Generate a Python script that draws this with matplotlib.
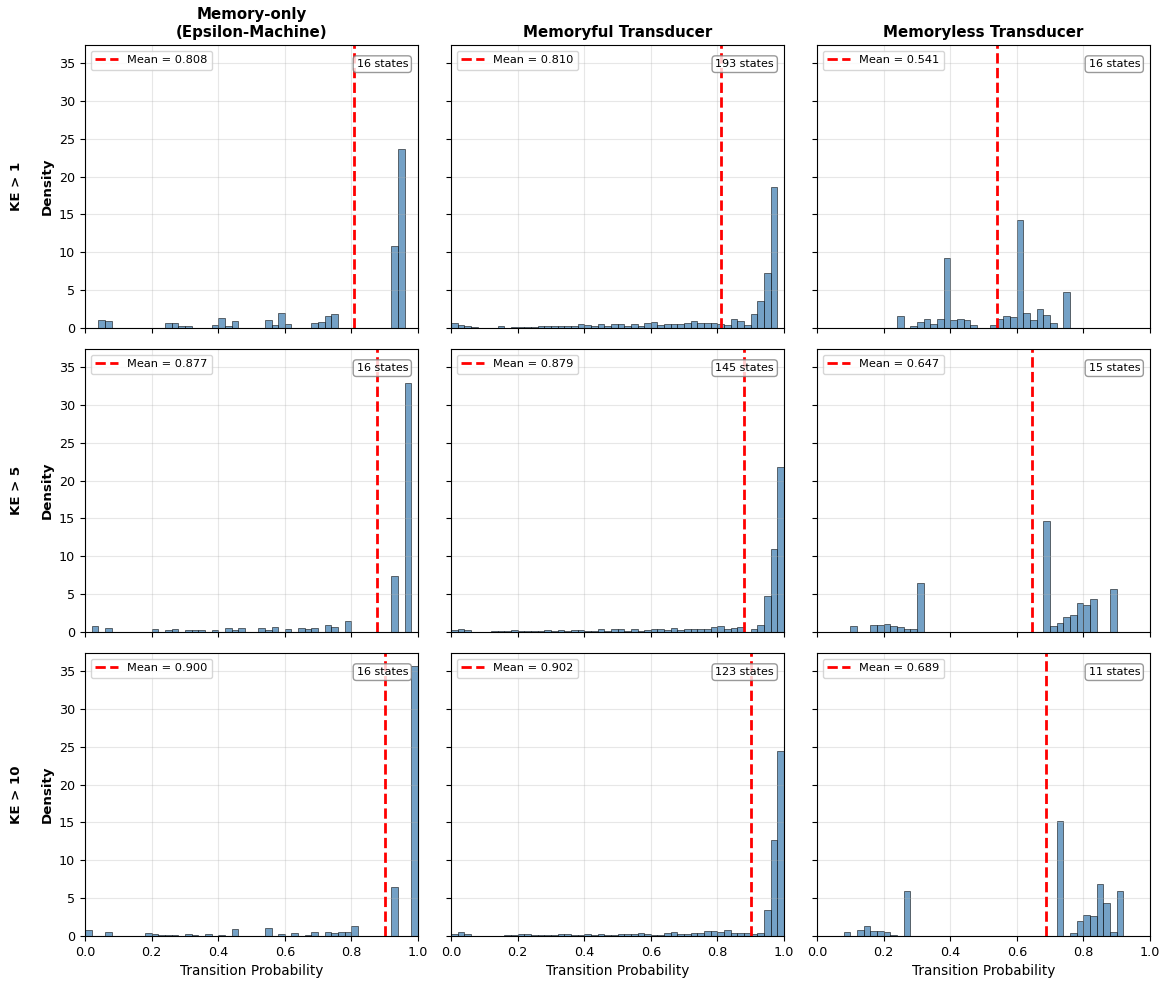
import numpy as np
import matplotlib
matplotlib.use("Agg")
import matplotlib.pyplot as plt

# 50 bins on [0, 1]; heights are densities
EDGES = np.linspace(0, 1, 51)
COL_TITLES = ["Memory-only\n(Epsilon-Machine)", "Memoryful Transducer", "Memoryless Transducer"]
ROW_LABELS = ["KE > 1", "KE > 5", "KE > 10"]

MEANS = [[0.808, 0.810, 0.541],
         [0.877, 0.879, 0.647],
         [0.900, 0.902, 0.689]]
STATES = [[16, 193, 16],
          [16, 145, 15],
          [16, 123, 11]]

# KE > 1
KE1_MEMONLY = [
    0, 0, 1.02, 0.88, 0, 0, 0, 0, 0, 0,
    0, 0, 0.62, 0.62, 0.31, 0.31, 0, 0, 0, 0.35,
    1.33, 0.27, 0.88, 0, 0, 0, 0, 1.10, 0.35, 1.95,
    0.53, 0, 0, 0, 0.71, 0.75, 1.64, 1.86, 0, 0,
    0, 0, 0, 0, 0, 0, 10.84, 23.6, 0, 0]
KE1_MEMFUL = [
    0.62, 0.35, 0.22, 0.09, 0, 0.04, 0, 0.22, 0.04, 0.09,
    0.13, 0.13, 0.18, 0.31, 0.27, 0.22, 0.22, 0.27, 0.22, 0.58,
    0.40, 0.22, 0.49, 0.27, 0.49, 0.53, 0.27, 0.53, 0.27, 0.62,
    0.84, 0.35, 0.58, 0.53, 0.53, 0.66, 0.93, 0.66, 0.62, 0.71,
    0.58, 0.35, 1.24, 0.88, 0.40, 1.86, 3.54, 7.26, 18.63, 0]
KE1_MEMLESS = [
    0, 0, 0, 0, 0, 0, 0, 0, 0, 0,
    0, 0, 1.64, 0, 0.27, 0.75, 1.24, 0.58, 1.15, 9.25,
    1.02, 1.15, 1.02, 0.35, 0, 0, 0.40, 1.24, 1.55, 1.46,
    14.25, 1.95, 1.02, 2.48, 1.77, 0.62, 0, 4.78, 0, 0,
    0, 0, 0, 0, 0, 0, 0, 0, 0, 0]

# KE > 5
KE5_MEMONLY = [
    0, 0.84, 0, 0.58, 0, 0, 0, 0, 0, 0,
    0.40, 0, 0.22, 0.35, 0, 0.22, 0.22, 0.31, 0, 0.31,
    0, 0.49, 0.22, 0.53, 0, 0, 0.58, 0.27, 0.62, 0,
    0.44, 0, 0.49, 0.35, 0.49, 0, 0.93, 0.62, 0, 1.42,
    0, 0, 0, 0, 0, 0, 7.39, 0, 32.9, 0]
KE5_MEMFUL = [
    0.31, 0.40, 0.27, 0.04, 0.04, 0, 0.13, 0.13, 0.13, 0.22,
    0.15, 0.15, 0.15, 0.18, 0.22, 0.13, 0.31, 0.18, 0.31, 0.22,
    0.13, 0.13, 0.35, 0.13, 0.35, 0.35, 0.13, 0.35, 0.18, 0.22,
    0.35, 0.44, 0.22, 0.58, 0.22, 0.44, 0.44, 0.44, 0.40, 0.62,
    0.84, 0.40, 0.49, 0.62, 0, 0.44, 0.88, 4.82, 10.97, 21.77]
KE5_MEMLESS = [
    0, 0, 0, 0, 0, 0.75, 0, 0, 0.93, 0.88,
    1.02, 0.75, 0.66, 0.44, 0.35, 6.42, 0, 0, 0, 0,
    0, 0, 0, 0, 0, 0, 0, 0, 0, 0,
    0, 0, 0, 0, 14.73, 0.84, 1.24, 1.99, 2.30, 3.80,
    3.63, 4.34, 0, 0, 5.66, 0, 0, 0, 0, 0]

# KE > 10
KE10_MEMONLY = [
    0.75, 0, 0, 0.48, 0, 0, 0, 0, 0, 0.35,
    0.22, 0.18, 0.18, 0.18, 0, 0.31, 0.09, 0, 0.31, 0,
    0.18, 0, 0.88, 0, 0, 0, 0, 1.01, 0, 0.26,
    0, 0.40, 0, 0.18, 0.48, 0, 0.48, 0.35, 0.53, 0.53,
    1.28, 0, 0, 0, 0, 0, 6.48, 0, 0, 35.6]
KE10_MEMFUL = [
    0.26, 0.48, 0.26, 0, 0, 0, 0, 0, 0.18, 0.13,
    0.26, 0.22, 0.13, 0.13, 0.13, 0.13, 0.31, 0.22, 0.09, 0.18,
    0.31, 0.18, 0.26, 0.13, 0.18, 0.31, 0.26, 0.31, 0.35, 0.22,
    0.13, 0.13, 0.35, 0.48, 0.22, 0.22, 0.35, 0.35, 0.62, 0.70,
    0.53, 0.75, 0.44, 0.40, 0.35, 0.26, 0.40, 3.39, 12.7, 24.4]
KE10_MEMLESS = [
    0, 0, 0, 0, 0.57, 0, 0.75, 1.28, 0.62, 0.70,
    0.53, 0.18, 0, 5.94, 0, 0, 0, 0, 0, 0,
    0, 0, 0, 0, 0, 0, 0, 0, 0, 0,
    0, 0, 0, 0, 0, 0, 15.2, 0, 0.35, 1.94,
    2.73, 2.69, 6.92, 4.32, 0.48, 5.94, 0, 0, 0, 0]

DENSITIES = [[KE1_MEMONLY, KE1_MEMFUL, KE1_MEMLESS],
             [KE5_MEMONLY, KE5_MEMFUL, KE5_MEMLESS],
             [KE10_MEMONLY, KE10_MEMFUL, KE10_MEMLESS]]


def main():
    fig, axs = plt.subplots(3, 3, figsize=(11.68, 9.85), sharex=True, sharey=True)
    fig.subplots_adjust(left=0.0728, right=0.9846, top=0.9543, bottom=0.0497,
                        wspace=0.099, hspace=0.074)
    centers = (EDGES[:-1] + EDGES[1:]) / 2

    for r in range(3):
        for c in range(3):
            ax = axs[r][c]
            ax.hist(centers, bins=EDGES, weights=DENSITIES[r][c], color="steelblue",
                    alpha=0.75, edgecolor="black", linewidth=0.5)
            m = MEANS[r][c]
            ax.axvline(m, color="red", linestyle="--", linewidth=2,
                       label=f"Mean = {m:.3f}")
            ax.legend(loc="upper left", fontsize=8.2)
            ax.text(0.97, 0.95, f"{STATES[r][c]} states", transform=ax.transAxes,
                    ha="right", va="top", fontsize=8,
                    bbox=dict(boxstyle="round", facecolor="white",
                              edgecolor="gray", alpha=0.8))
            ax.grid(True, alpha=0.3)
            ax.set_xlim(0, 1)
            ax.tick_params(labelsize=9.2)
            if r == 0:
                ax.set_title(COL_TITLES[c], fontsize=10.8, fontweight="bold")
            if c == 0:
                ax.set_ylabel("Density", fontsize=9.6, fontweight="bold")
                ax.text(-0.207, 0.5, ROW_LABELS[r], transform=ax.transAxes,
                        rotation=90, ha="center", va="center",
                        fontsize=9.6, fontweight="bold")
            if r == 2:
                ax.set_xlabel("Transition Probability", fontsize=9.8)

    fig.savefig("out.png", dpi=100)


if __name__ == "__main__":
    main()
